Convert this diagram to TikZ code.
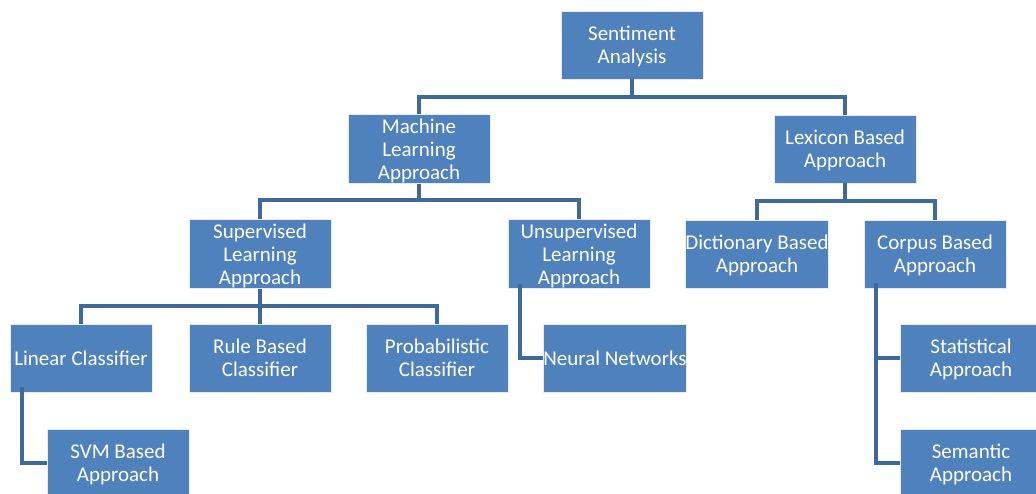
\documentclass[tikz,border=0pt]{standalone}
\usepackage{fontspec}
\setmainfont{Carlito}
\definecolor{boxblue}{RGB}{79,129,189}
\definecolor{linkblue}{RGB}{62,106,154}
\newcommand{\bxt}[1]{\raisebox{-2.5pt}[\height][\depth]{\begin{tabular}{@{}c@{}}#1\end{tabular}}}
\begin{document}
\begin{tikzpicture}[x=1pt,y=-1pt,
  box/.style={rectangle, fill=boxblue, draw=white!85!boxblue, line width=0.8pt,
    minimum width=142pt, minimum height=68pt, inner sep=0pt,
    text=white, font=\fontsize{21}{23}\selectfont},
  link/.style={draw=linkblue, line width=3.2pt, line join=miter}]
\useasboundingbox (0,0) rectangle (1036,494);
\fill[white] (0,0) rectangle (1036,494);
\coordinate (r1) at (632,97);
\coordinate (m1) at (419,200);
\coordinate (l1) at (845,201);
\coordinate (s1) at (260,306);
\node[box] (sa) at (632,45) {\bxt{Sentiment\\Analysis}};
\node[box] (ml) at (419,149) {\bxt{Machine\\Learning\\Approach}};
\node[box] (lx) at (845,149) {\bxt{Lexicon Based\\Approach}};
\node[box] (sup) at (260,254) {\bxt{Supervised\\Learning\\Approach}};
\node[box] (uns) at (579,254) {\bxt{Unsupervised\\Learning\\Approach}};
\node[box] (dic) at (757,254) {\bxt{Dictionary Based\\Approach}};
\node[box] (cor) at (935,254) {\bxt{Corpus Based\\Approach}};
\node[box] (lin) at (81,358) {\bxt{Linear Classifier}};
\node[box] (rul) at (260,358) {\bxt{Rule Based\\Classifier}};
\node[box] (pro) at (437,358) {\bxt{Probabilistic\\Classifier}};
\node[box] (neu) at (615,358) {\bxt{Neural Networks}};
\node[box] (svm) at (118,463) {\bxt{SVM Based\\Approach}};
\node[box] (sta) at (971,358) {\bxt{Statistical\\Approach}};
\node[box] (sem) at (971,463) {\bxt{Semantic\\Approach}};
\draw[link] (sa.south) -- (r1) -| (ml.north);
\draw[link] (r1) -| (lx.north);
\draw[link] (ml.south) -- (m1) -| (sup.north);
\draw[link] (m1) -| (uns.north);
\draw[link] (lx.south) -- (l1) -| (dic.north);
\draw[link] (l1) -| (cor.north);
\draw[link] (sup.south) -- (s1) -| (lin.north);
\draw[link] (s1) -| (pro.north);
\draw[link] (s1) -- (rul.north);
\coordinate (la) at ([xshift=-59pt,yshift=5pt]lin.south);
\coordinate (ua) at ([xshift=-59pt,yshift=5pt]uns.south);
\coordinate (ca) at ([xshift=-59pt,yshift=5pt]cor.south);
\draw[link] (la) |- (svm.west);
\draw[link] (ua) |- (neu.west);
\draw[link] (ca) |- (sem.west);
\draw[link] (ca) |- (sta.west);
\end{tikzpicture}
\end{document}
